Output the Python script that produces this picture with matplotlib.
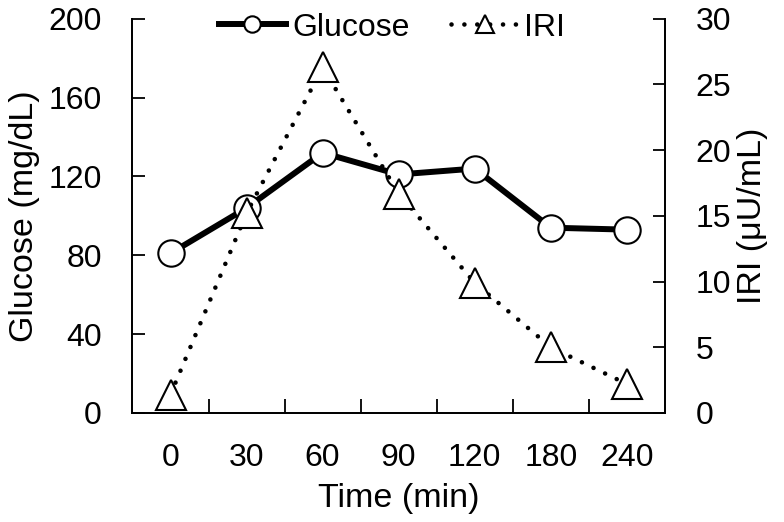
import matplotlib.pyplot as plt
import numpy as np

plt.rcParams.update({
    'font.family': ['Liberation Sans', 'DejaVu Sans'],
    'font.size': 23,
})

# data
times = ['0', '30', '60', '90', '120', '180', '240']
glucose = [81, 104, 132, 121, 124, 94, 93]
iri = [1.4, 15.2, 26.3, 16.7, 9.9, 5.0, 2.2]

x = np.arange(len(times))

fig = plt.figure(figsize=(7.84, 5.22), dpi=100)
ax1 = fig.add_axes([0.169, 0.209, 0.679, 0.755])
ax2 = ax1.twinx()

l1, = ax1.plot(x, glucose, color='black', linewidth=4.3, marker='o',
               markersize=19, markerfacecolor='white', markeredgecolor='black',
               markeredgewidth=1.5, label='Glucose', zorder=3)
l2, = ax2.plot(x, iri, color='black', linewidth=3.3, linestyle=(0, (0.01, 2.8)),
               dash_capstyle='round', marker='^', markersize=21,
               markerfacecolor='white', markeredgecolor='black',
               markeredgewidth=1.5, label='IRI', zorder=3)

ax1.set_xlim(-0.5, len(times) - 0.5)
ax1.set_ylim(0, 200)
ax2.set_ylim(0, 30)
ax1.set_yticks(range(0, 201, 40))
ax2.set_yticks(range(0, 31, 5))

# category labels at centres, tick marks at the boundaries
ax1.set_xticks(x)
ax1.set_xticklabels(times)
ax1.set_xticks(np.arange(0.5, len(times) - 1, 1), minor=True)
ax1.tick_params(axis='x', which='major', length=0, pad=22)
ax1.tick_params(axis='x', which='minor', direction='in', length=10, width=1.3)
ax1.tick_params(axis='y', direction='in', length=9, width=1.3, pad=22)
ax2.tick_params(axis='y', direction='in', length=9, width=1.3, pad=22)

for ax in (ax1, ax2):
    ax.spines['top'].set_visible(False)
    for s in ('left', 'right', 'bottom'):
        ax.spines[s].set_linewidth(1.3)

ax1.set_xlabel('Time (min)', fontsize=24.5, labelpad=7)
ax1.set_ylabel('Glucose (mg/dL)', fontsize=24.5, labelpad=6)
ax2.set_ylabel('IRI (μU/mL)', fontsize=24.5, labelpad=4)

fig.legend(handles=[l1, l2], loc='center', bbox_to_anchor=(0.5, 0.947),
           ncol=2, frameon=False, handlelength=2.1, columnspacing=1.3,
           handletextpad=0.2, markerscale=0.62, borderpad=0)

fig.savefig('out.png', dpi=100, facecolor='white')
